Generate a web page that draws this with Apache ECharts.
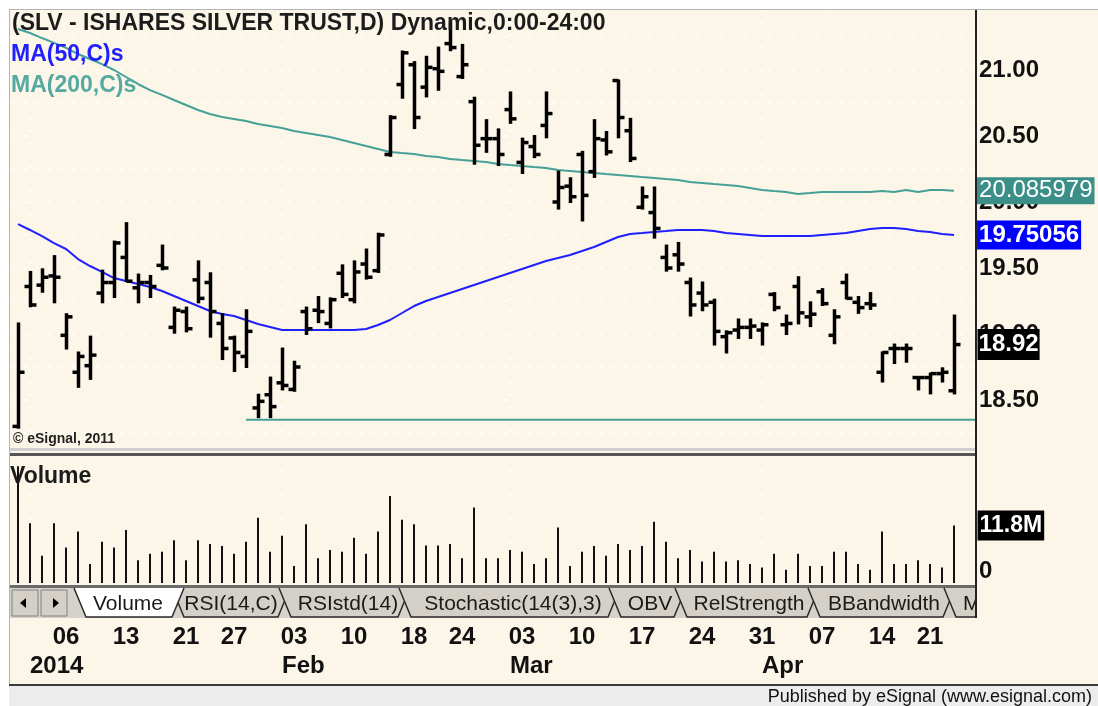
<!DOCTYPE html>
<html>
<head>
<meta charset="utf-8">
<title>SLV - iShares Silver Trust</title>
<script src="https://cdn.jsdelivr.net/npm/echarts@6/dist/echarts.min.js"></script>
<style>
  html, body { margin: 0; padding: 0; background: #fff; }
  #chart { width: 1098px; height: 706px; }
</style>
</head>
<body>
<div id="chart"></div>
<script>
// trading days shown on the chart
const dates = [
  '2013-12-30', '2013-12-31',
  '2014-01-02', '2014-01-03', '2014-01-06', '2014-01-07', '2014-01-08', '2014-01-09', '2014-01-10',
  '2014-01-13', '2014-01-14', '2014-01-15', '2014-01-16', '2014-01-17',
  '2014-01-21', '2014-01-22', '2014-01-23', '2014-01-24',
  '2014-01-27', '2014-01-28', '2014-01-29', '2014-01-30', '2014-01-31',
  '2014-02-03', '2014-02-04', '2014-02-05', '2014-02-06', '2014-02-07',
  '2014-02-10', '2014-02-11', '2014-02-12', '2014-02-13', '2014-02-14',
  '2014-02-18', '2014-02-19', '2014-02-20', '2014-02-21',
  '2014-02-24', '2014-02-25', '2014-02-26', '2014-02-27', '2014-02-28',
  '2014-03-03', '2014-03-04', '2014-03-05', '2014-03-06', '2014-03-07',
  '2014-03-10', '2014-03-11', '2014-03-12', '2014-03-13', '2014-03-14',
  '2014-03-17', '2014-03-18', '2014-03-19', '2014-03-20', '2014-03-21',
  '2014-03-24', '2014-03-25', '2014-03-26', '2014-03-27', '2014-03-28',
  '2014-03-31', '2014-04-01', '2014-04-02', '2014-04-03', '2014-04-04',
  '2014-04-07', '2014-04-08', '2014-04-09', '2014-04-10', '2014-04-11',
  '2014-04-14', '2014-04-15', '2014-04-16', '2014-04-17',
  '2014-04-21', '2014-04-22', '2014-04-23'
];

const opens = [
  18.30, 19.36, 19.37, 19.44, 18.99, 18.71, 18.76, 19.31, 19.39, 19.58,
  19.35, 19.39, 19.52, 19.05, 19.17, 19.41, 19.39, 19.08, 18.97, 18.83,
  18.44, 18.54, 18.63, 18.58, 19.17, 19.18, 19.08, 19.46, 19.26, 19.53,
  19.48, 20.36, 20.89, 21.04, 20.87, 21.01, 21.20, 20.95, 20.76, 20.48,
  20.48, 20.70, 20.30, 20.42, 20.58, 20.00, 20.12, 20.36, 20.23, 20.47,
  20.92, 20.54, 19.96, 19.92, 19.58, 19.60, 19.39, 19.31, 19.24, 18.98,
  19.03, 19.05, 19.03, 19.30, 19.07, 19.36, 19.13, 19.32, 18.99, 19.39,
  19.24, 19.23, 18.71, 18.89, 18.89, 18.67, 18.67, 18.70, 18.57
];
const highs = [
  19.08, 19.47, 19.49, 19.59, 19.15, 18.86, 18.98, 19.48, 19.70, 19.84,
  19.45, 19.44, 19.67, 19.20, 19.20, 19.55, 19.46, 19.15, 18.98, 19.18,
  18.54, 18.67, 18.89, 18.79, 19.20, 19.28, 19.27, 19.52, 19.55, 19.64,
  19.76, 20.65, 21.14, 21.06, 21.10, 21.17, 21.36, 21.19, 20.79, 20.62,
  20.55, 20.83, 20.48, 20.50, 20.83, 20.23, 20.18, 20.38, 20.62, 20.53,
  20.92, 20.63, 20.11, 20.11, 19.67, 19.69, 19.42, 19.39, 19.26, 19.02,
  19.11, 19.11, 19.08, 19.31, 19.14, 19.43, 19.24, 19.34, 19.18, 19.45,
  19.28, 19.31, 18.86, 18.92, 18.92, 18.67, 18.70, 18.74, 19.14
];
const lows = [
  18.29, 19.21, 19.32, 19.24, 18.89, 18.60, 18.66, 19.24, 19.28, 19.40,
  19.24, 19.28, 19.49, 19.01, 19.02, 19.24, 18.98, 18.81, 18.72, 18.75,
  18.37, 18.37, 18.58, 18.57, 19.00, 19.09, 19.05, 19.28, 19.24, 19.42,
  19.47, 20.35, 20.79, 20.56, 20.80, 20.85, 21.15, 20.94, 20.29, 20.38,
  20.28, 20.60, 20.22, 20.34, 20.49, 19.95, 20.00, 19.86, 20.19, 20.36,
  20.49, 20.31, 19.95, 19.73, 19.48, 19.48, 19.14, 19.18, 18.92, 18.86,
  18.97, 18.97, 18.92, 19.18, 19.00, 19.08, 19.06, 19.22, 18.93, 19.27,
  19.16, 19.19, 18.64, 18.78, 18.79, 18.58, 18.55, 18.64, 18.55
];
const closes = [
  18.71, 19.22, 19.43, 19.43, 19.13, 18.83, 18.84, 19.39, 19.69, 19.40,
  19.39, 19.36, 19.50, 19.18, 19.04, 19.27, 19.17, 18.89, 18.86, 19.02,
  18.49, 18.45, 18.61, 18.75, 19.04, 19.17, 19.26, 19.30, 19.47, 19.43,
  19.75, 20.64, 21.13, 20.64, 21.02, 20.99, 21.17, 21.04, 20.43, 20.48,
  20.36, 20.63, 20.45, 20.36, 20.67, 20.11, 20.04, 20.05, 20.48, 20.38,
  20.64, 20.33, 20.04, 19.80, 19.50, 19.53, 19.22, 19.22, 19.02, 19.01,
  19.05, 19.06, 19.07, 19.20, 19.08, 19.16, 19.15, 19.23, 19.13, 19.27,
  19.20, 19.22, 18.86, 18.89, 18.89, 18.67, 18.70, 18.71, 18.92
];

// volume, millions of shares
const volumes = [
  24.0, 12.3, 5.6, 12.3, 7.3, 10.6, 3.9, 8.5, 7.3, 10.9,
  4.7, 6.0, 6.4, 8.8, 4.7, 8.8, 8.0, 7.6, 6.0, 8.5,
  13.4, 6.4, 9.7, 3.5, 12.1, 5.1, 6.8, 6.4, 9.3, 6.0,
  10.6, 17.9, 13.0, 12.1, 7.7, 7.7, 8.0, 5.1, 15.5, 5.1,
  5.1, 6.8, 6.4, 3.9, 5.1, 11.4, 3.5, 6.4, 7.6, 5.6,
  8.0, 6.8, 7.6, 12.6, 8.5, 5.1, 6.8, 4.4, 6.4, 4.4,
  4.7, 3.9, 3.2, 6.0, 2.7, 6.0, 3.5, 3.5, 6.4, 6.4,
  3.9, 2.7, 10.6, 3.9, 3.9, 4.7, 3.9, 3.2, 11.8
];

const ma50 = [
  19.833, 19.788, 19.742, 19.689, 19.644, 19.568, 19.515, 19.470, 19.424, 19.402,
  19.379, 19.356, 19.326, 19.288, 19.250, 19.212, 19.174, 19.152, 19.136, 19.106,
  19.076, 19.053, 19.030, 19.030, 19.030, 19.030, 19.030, 19.030, 19.030, 19.038,
  19.068, 19.106, 19.159, 19.212, 19.250, 19.280, 19.311, 19.341, 19.371, 19.402,
  19.432, 19.462, 19.492, 19.523, 19.553, 19.576, 19.598, 19.629, 19.659, 19.697,
  19.735, 19.758, 19.765, 19.773, 19.780, 19.788, 19.788, 19.788, 19.780, 19.765,
  19.758, 19.750, 19.742, 19.742, 19.742, 19.742, 19.742, 19.750, 19.758, 19.765,
  19.780, 19.795, 19.803, 19.803, 19.795, 19.780, 19.773, 19.758, 19.75056
];
const ma200 = [
  21.311, 21.280, 21.242, 21.205, 21.167, 21.121, 21.083, 21.045, 21.000, 20.947,
  20.894, 20.848, 20.811, 20.773, 20.735, 20.697, 20.667, 20.644, 20.629, 20.614,
  20.591, 20.576, 20.561, 20.538, 20.523, 20.508, 20.492, 20.470, 20.447, 20.424,
  20.402, 20.379, 20.371, 20.364, 20.348, 20.341, 20.326, 20.318, 20.311, 20.303,
  20.288, 20.280, 20.273, 20.265, 20.258, 20.242, 20.235, 20.227, 20.220, 20.212,
  20.205, 20.197, 20.189, 20.182, 20.174, 20.167, 20.152, 20.144, 20.136, 20.129,
  20.121, 20.106, 20.091, 20.083, 20.076, 20.061, 20.068, 20.076, 20.076, 20.076,
  20.076, 20.076, 20.083, 20.076, 20.091, 20.076, 20.091, 20.091, 20.085979
];

// horizontal support line drawn from this day to the right edge
const supportLevel = 18.35;
const supportFrom = '2014-01-28';

// date axis labels
const dayTicks = [
  '2014-01-06', '2014-01-13', '2014-01-21', '2014-01-27', '2014-02-03', '2014-02-10',
  '2014-02-18', '2014-02-24', '2014-03-03', '2014-03-10', '2014-03-17', '2014-03-24',
  '2014-03-31', '2014-04-07', '2014-04-14', '2014-04-21'
];
const monthEnds = ['2013-12-31', '2014-01-31', '2014-02-28', '2014-03-31'];
const monthNames = ['2014', 'Feb', 'Mar', 'Apr'];

const tabNames = ['Volume', 'RSI(14,C)', 'RSIstd(14)', 'Stochastic(14(3),3)', 'OBV', 'RelStrength', 'BBandwidth', 'MACD'];

// ---------------------------------------------------------------
const chart = echarts.init(document.getElementById('chart'));

const FONT = 'Liberation Sans, Arial, sans-serif';
const X_MIN = -0.5;
const X_MAX = 79.83;
const BLUE = '#1f1fff';
const TEAL = '#45a098';

const dateIndex = (d) => dates.indexOf(d);
const dayIdx = dayTicks.map(dateIndex);
const monthIdx = monthEnds.map(dateIndex);
const last = dates.length - 1;

const ohlcData = dates.map((d, i) => [i, opens[i], highs[i], lows[i], closes[i]]);
const volData = volumes.map((v, i) => [i, v]);
const ma50Data = ma50.map((v, i) => [i, v]);
const ma200Data = ma200.map((v, i) => [i, v]);

const dotted = { color: '#ffffff', width: 2, type: [2, 10] };

function renderOhlc(params, api) {
  const i = api.value(0);
  const o = api.coord([i, api.value(1)]);
  const h = api.coord([i, api.value(2)]);
  const l = api.coord([i, api.value(3)]);
  const c = api.coord([i, api.value(4)]);
  const x = Math.round(h[0]) + 0.5;
  const st = { stroke: '#000', lineWidth: 3.5 };
  return {
    type: 'group',
    children: [
      { type: 'line', shape: { x1: x, y1: h[1] - 1, x2: x, y2: l[1] + 1 }, style: st },
      { type: 'line', shape: { x1: x - 6, y1: o[1], x2: x, y2: o[1] }, style: st },
      { type: 'line', shape: { x1: x, y1: c[1], x2: x + 6, y2: c[1] }, style: st }
    ]
  };
}

function renderVolume(params, api) {
  const top = api.coord([api.value(0), api.value(1)]);
  const base = api.coord([api.value(0), 0]);
  const x = Math.round(top[0]);
  return {
    type: 'line',
    shape: { x1: x, y1: top[1], x2: x, y2: base[1] },
    style: { stroke: '#111', lineWidth: 2 }
  };
}

// frame, tabs and footer
const deco = [
  { type: 'rect', shape: { x: 0, y: 0, width: 1098, height: 9 }, style: { fill: '#ffffff' }, z: 1 },
  { type: 'rect', shape: { x: 0, y: 0, width: 9, height: 686 }, style: { fill: '#ffffff' }, z: 1 },
  { type: 'line', shape: { x1: 9, y1: 9.5, x2: 1098, y2: 9.5 }, style: { stroke: '#b4b4b4', lineWidth: 1 }, z: 1 },
  { type: 'line', shape: { x1: 9.5, y1: 9, x2: 9.5, y2: 686 }, style: { stroke: '#b4b4b4', lineWidth: 1 }, z: 1 },
  // panel separator
  { type: 'rect', shape: { x: 10, y: 448, width: 966, height: 3 }, style: { fill: '#cfcfcf' }, z: 1 },
  { type: 'rect', shape: { x: 10, y: 453, width: 966, height: 3 }, style: { fill: '#555555' }, z: 1 },
  // tab strip
  { type: 'rect', shape: { x: 10, y: 585, width: 966, height: 33 }, style: { fill: '#d6d2ca' }, z: 5 },
  { type: 'rect', shape: { x: 10, y: 585, width: 966, height: 3 }, style: { fill: '#6a6a6a' }, z: 5 },
  // scroll buttons
  { type: 'rect', shape: { x: 12, y: 590, width: 26, height: 26 }, style: { fill: '#d4d0c8', stroke: '#808080', lineWidth: 1 }, z: 6 },
  { type: 'rect', shape: { x: 41, y: 590, width: 26, height: 26 }, style: { fill: '#d4d0c8', stroke: '#808080', lineWidth: 1 }, z: 6 },
  { type: 'polygon', shape: { points: [[20, 603], [26, 598], [26, 608]] }, style: { fill: '#000' }, z: 7 },
  { type: 'polygon', shape: { points: [[59, 603], [53, 598], [53, 608]] }, style: { fill: '#000' }, z: 7 }
];

const tabSpans = [[74, 184], [172, 290], [279, 410], [399, 620], [609, 686], [675, 819], [808, 955], [944, 1060]];
const tabTextX = [128, 231, 348, 513, 650, 749, 884, 963];
function tabShapes(k, active) {
  const [x0, x1] = tabSpans[k];
  const z = active ? 9 : 6 + k * 0.01;
  return [
    { type: 'polygon', shape: { points: [[x0, 588], [x1, 588], [x1 - 12, 617], [x0 + 12, 617]] },
      style: { fill: active ? '#ffffff' : '#d4d0c8' }, z: z },
    { type: 'polyline', shape: { points: [[x0, 588], [x0 + 12, 617], [x1 - 12, 617], [x1, 588]] },
      style: { stroke: '#2a2a2a', lineWidth: 1.5, fill: null }, z: z },
    { type: 'text', x: tabTextX[k], y: 604, z: z,
      style: { text: tabNames[k], font: '21px ' + FONT, fill: '#1a1a1a',
        textAlign: k === tabNames.length - 1 ? 'left' : 'center', textVerticalAlign: 'middle' } }
  ];
}
for (let k = 1; k < tabNames.length; k++) deco.push(...tabShapes(k, false));
deco.push(...tabShapes(0, true));

deco.push(
  { type: 'rect', shape: { x: 977, y: 584, width: 121, height: 36 }, style: { fill: '#fcf6e9' }, z: 10 },
  { type: 'line', shape: { x1: 976, y1: 10, x2: 976, y2: 618 }, style: { stroke: '#222', lineWidth: 2 }, z: 11 },
  { type: 'line', shape: { x1: 9, y1: 685, x2: 1098, y2: 685 }, style: { stroke: '#3a3a3a', lineWidth: 2 }, z: 11 },
  { type: 'rect', shape: { x: 9, y: 686, width: 1089, height: 20 }, style: { fill: '#ececec' }, z: 11 },
  { type: 'rect', shape: { x: 0, y: 686, width: 9, height: 20 }, style: { fill: '#ffffff' }, z: 11 },
  { type: 'text', x: 1092, y: 697, z: 12,
    style: { text: 'Published by eSignal (www.esignal.com)', font: '18px ' + FONT, fill: '#111',
      textAlign: 'right', textVerticalAlign: 'middle' } },
  // legends and titles
  { type: 'text', x: 12, y: 24, z: 12,
    style: { text: '(SLV - ISHARES SILVER TRUST,D) Dynamic,0:00-24:00', font: 'bold 23px ' + FONT,
      fill: '#1c1c1c', textVerticalAlign: 'middle' } },
  { type: 'text', x: 11, y: 55, z: 12,
    style: { text: 'MA(50,C)s', font: 'bold 23px ' + FONT, fill: BLUE, textVerticalAlign: 'middle' } },
  { type: 'text', x: 11, y: 86, z: 12,
    style: { text: 'MA(200,C)s', font: 'bold 23px ' + FONT, fill: '#55a9a0', textVerticalAlign: 'middle' } },
  { type: 'text', x: 13, y: 439, z: 12,
    style: { text: '\u00a9 eSignal, 2011', font: 'bold 14px ' + FONT, fill: '#222', textVerticalAlign: 'middle' } },
  { type: 'text', x: 10, y: 477, z: 12,
    style: { text: 'Volume', font: 'bold 23px ' + FONT, fill: '#1c1c1c', textVerticalAlign: 'middle' } }
);

const axisFont = { fontFamily: FONT, fontSize: 24, fontWeight: 'bold', color: '#111' };

const option = {
  animation: false,
  backgroundColor: '#fcf6e9',
  textStyle: { fontFamily: FONT },
  grid: [
    { left: 12, top: 10, width: 964, height: 423, containLabel: false, outerBoundsMode: 'none' },
    { left: 12, top: 458, width: 964, height: 125, containLabel: false, outerBoundsMode: 'none' }
  ],
  xAxis: [
    {
      gridIndex: 0, type: 'value', min: X_MIN, max: X_MAX,
      axisLine: { show: false }, axisLabel: { show: false },
      axisTick: { show: false, customValues: monthIdx },
      splitLine: { show: true, lineStyle: dotted }
    },
    {
      gridIndex: 1, type: 'value', min: X_MIN, max: X_MAX, position: 'bottom',
      axisLine: { show: false },
      axisTick: { show: false, customValues: monthIdx },
      splitLine: { show: true, lineStyle: dotted },
      axisLabel: Object.assign({
        customValues: dayIdx, margin: 42,
        formatter: (v) => dates[Math.round(v)].slice(8)
      }, axisFont)
    },
    {
      gridIndex: 1, type: 'value', min: X_MIN, max: X_MAX, position: 'bottom', offset: 0,
      axisLine: { show: false }, axisTick: { show: false }, splitLine: { show: false },
      axisLabel: Object.assign({
        customValues: monthIdx, margin: 71, align: 'left',
        formatter: (v) => monthNames[monthIdx.indexOf(Math.round(v))]
      }, axisFont)
    }
  ],
  yAxis: [
    {
      gridIndex: 0, type: 'value', position: 'right', min: 18.25, max: 21.4545, interval: 0.25,
      axisLine: { show: false }, axisTick: { show: false },
      splitLine: { show: true, lineStyle: dotted, showMinLine: true, showMaxLine: false },
      axisLabel: Object.assign({
        margin: 3, align: 'left',
        formatter: (v) => (Math.abs(v * 2 - Math.round(v * 2)) < 1e-6 ? v.toFixed(2) : '')
      }, axisFont)
    },
    {
      gridIndex: 1, type: 'value', position: 'right', min: 0, max: 25.7,
      axisLine: { show: false }, axisTick: { show: false }, splitLine: { show: false },
      axisLabel: Object.assign({
        customValues: [0], margin: 3, align: 'left', verticalAlign: 'bottom',
        formatter: (v) => String(v)
      }, axisFont)
    }
  ],
  series: [
    {
      name: 'MA200', type: 'line', xAxisIndex: 0, yAxisIndex: 0, data: ma200Data,
      showSymbol: false, z: 2,
      lineStyle: { color: TEAL, width: 2 },
      endLabel: {
        show: true, distance: 23, formatter: (p) => String(p.value[1]),
        backgroundColor: '#3b8f88', color: '#fff', padding: [2, 2, 1, 2],
        fontFamily: FONT, fontSize: 24
      }
    },
    {
      name: 'MA50', type: 'line', xAxisIndex: 0, yAxisIndex: 0, data: ma50Data,
      showSymbol: false, z: 2,
      lineStyle: { color: BLUE, width: 2 },
      endLabel: {
        show: true, distance: 23, formatter: (p) => String(p.value[1]),
        backgroundColor: '#0000ff', color: '#fff', padding: [3, 2, 2, 2],
        fontFamily: FONT, fontSize: 24, fontWeight: 'bold'
      }
    },
    {
      name: 'Support', type: 'line', xAxisIndex: 0, yAxisIndex: 0,
      data: [[dateIndex(supportFrom), supportLevel], [X_MAX, supportLevel]],
      showSymbol: false, z: 2, lineStyle: { color: TEAL, width: 2 }
    },
    {
      name: 'SLV', type: 'custom', xAxisIndex: 0, yAxisIndex: 0, data: ohlcData,
      renderItem: renderOhlc, encode: { x: 0, y: [1, 2, 3, 4] }, z: 3
    },
    {
      name: 'Last', type: 'scatter', xAxisIndex: 0, yAxisIndex: 0,
      data: [[last, closes[last]]], symbolSize: 1,
      itemStyle: { color: 'rgba(0,0,0,0)', opacity: 1 }, z: 4,
      label: {
        show: true, position: 'right', distance: 23,
        formatter: (p) => p.value[1].toFixed(2),
        backgroundColor: '#000', color: '#fff', padding: [4, 1, 3, 1],
        fontFamily: FONT, fontSize: 24, fontWeight: 'bold'
      }
    },
    {
      name: 'Volume', type: 'custom', xAxisIndex: 1, yAxisIndex: 1, data: volData,
      renderItem: renderVolume, encode: { x: 0, y: 1 }, z: 3
    },
    {
      name: 'LastVolume', type: 'scatter', xAxisIndex: 1, yAxisIndex: 1,
      data: [[last, volumes[last]]], symbolSize: 1,
      itemStyle: { color: 'rgba(0,0,0,0)', opacity: 1 }, z: 4,
      label: {
        show: true, position: 'right', distance: 23,
        formatter: (p) => p.value[1] + 'M',
        backgroundColor: '#000', color: '#fff', padding: [4, 2, 3, 2],
        fontFamily: FONT, fontSize: 23, fontWeight: 'bold'
      }
    }
  ],
  graphic: { elements: deco }
};

chart.setOption(option);
</script>
</body>
</html>
